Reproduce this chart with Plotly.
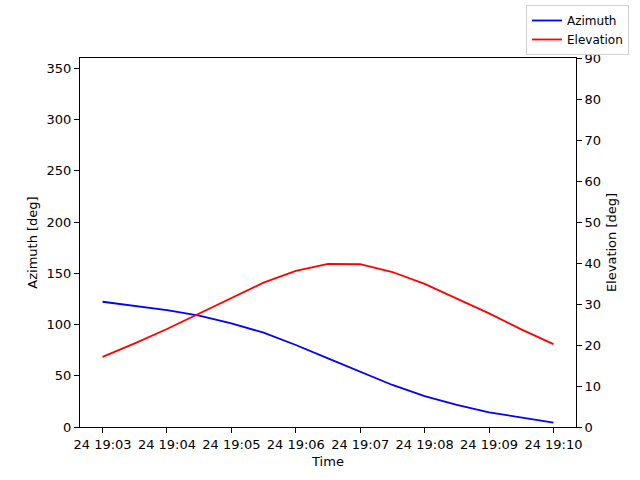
import plotly.graph_objects as go

times = ["2024-01-24 19:03:00", "2024-01-24 19:03:30", "2024-01-24 19:04:00", "2024-01-24 19:04:30",
         "2024-01-24 19:05:00", "2024-01-24 19:05:30", "2024-01-24 19:06:00", "2024-01-24 19:06:30",
         "2024-01-24 19:07:00", "2024-01-24 19:07:30", "2024-01-24 19:08:00", "2024-01-24 19:08:30",
         "2024-01-24 19:09:00", "2024-01-24 19:09:30", "2024-01-24 19:10:00"]
azimuth = [122.2, 118.3, 114.1, 108.6, 101.1, 92.0, 80.0, 67.0, 54.0, 41.0, 30.2, 21.5, 14.3, 9.1, 4.2]
elevation = [17.1, 20.4, 23.9, 27.7, 31.5, 35.2, 38.1, 39.8, 39.7, 37.8, 34.9, 31.4, 27.7, 23.8, 20.2]
tick_vals = ["2024-01-24 19:03", "2024-01-24 19:04", "2024-01-24 19:05", "2024-01-24 19:06",
             "2024-01-24 19:07", "2024-01-24 19:08", "2024-01-24 19:09", "2024-01-24 19:10"]
tick_text = ["24 19:03", "24 19:04", "24 19:05", "24 19:06", "24 19:07", "24 19:08", "24 19:09", "24 19:10"]

fig = go.Figure()
fig.add_trace(go.Scatter(x=times, y=azimuth, mode="lines", name="Azimuth",
                         line=dict(color="blue", width=1.8), yaxis="y"))
fig.add_trace(go.Scatter(x=times, y=elevation, mode="lines", name="Elevation",
                         line=dict(color="red", width=1.8), yaxis="y2"))

font = dict(family="DejaVu Sans", size=13, color="black")
fig.update_layout(
    width=640, height=480,
    margin=dict(l=80, r=64, t=58, b=53, autoexpand=False),
    paper_bgcolor="white", plot_bgcolor="white",
    font=font,
    showlegend=True,
    legend=dict(x=(629 - 80) / 496, y=(427 - 5) / 369,
                xanchor="right", yanchor="top",
                bordercolor="#d0d0d0", borderwidth=1, bgcolor="white",
                font=dict(family="DejaVu Sans", size=12, color="black"),
                itemwidth=30, tracegroupgap=0),
    xaxis=dict(type="date", range=["2024-01-24 19:02:39", "2024-01-24 19:10:21"],
               tickvals=tick_vals, ticktext=tick_text, tickangle=0, automargin=False,
               showgrid=False, zeroline=False, showline=True, linecolor="black", linewidth=1,
               mirror=True, ticks="outside", ticklen=5, tickcolor="black",
               title=dict(text="Time", font=font, standoff=6)),
    yaxis=dict(range=[0, 360], tickvals=[0, 50, 100, 150, 200, 250, 300, 350], automargin=False,
               showgrid=False, zeroline=False, showline=True, linecolor="black", linewidth=1,
               ticks="outside", ticklen=5, tickcolor="black",
               title=dict(text="Azimuth [deg]", font=font, standoff=6)),
    yaxis2=dict(range=[0, 90], tickvals=list(range(0, 91, 10)), overlaying="y", side="right",
                automargin=False,
                showgrid=False, zeroline=False, showline=True, linecolor="black", linewidth=1,
                ticks="outside", ticklen=5, tickcolor="black",
                title=dict(text="Elevation [deg]", font=font, standoff=6)),
)
fig.write_html("out.html", config={"displayModeBar": False},
               post_script="document.body.style.margin='0';document.body.style.overflow='hidden';")
